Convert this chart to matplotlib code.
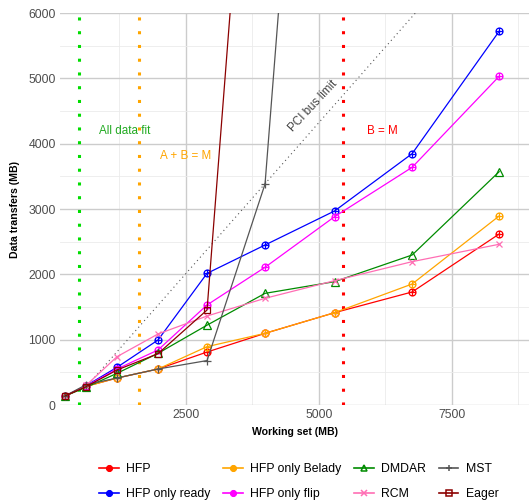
import numpy as np
import matplotlib
matplotlib.use("Agg")
import matplotlib.pyplot as plt
from matplotlib.path import Path
from matplotlib.lines import Line2D

plt.rcParams['font.family'] = ['Liberation Sans', 'DejaVu Sans']

# working set sizes (MB)
working_set = [231, 626, 1209, 1979, 2900, 3990, 5297, 6754, 8389]

# data transfers (MB) per strategy
hfp = [138, 285, 413, 551, 811, 1097, 1413, 1730, 2617]
hfp_belady = [138, 285, 413, 551, 893, 1097, 1413, 1852, 2893]
dmdar = [138, 270, 485, 791, 1222, 1709, 1888, 2296, 3571]
mst = [138, 310, 413, 551, 680, 3383, 17000]
hfp_ready = [138, 295, 577, 995, 2015, 2449, 2970, 3847, 5720]
hfp_flip = [138, 290, 551, 842, 1531, 2108, 2883, 3638, 5031]
rcm = [138, 300, 740, 1087, 1362, 1633, 1903, 2194, 2460]
eager = [138, 280, 536, 785, 1454, 12900]

# PCI bus limit line
pci_x = [560, 6815]
pci_y = [215, 6000]

# vertical thresholds
all_fit_x = 500
ab_m_x = 1616
b_m_x = 5451

# circle with a plus inside (ggplot shape 10)
circ = Path.unit_circle()
cross = Path([(-1, 0), (1, 0), (0, -1), (0, 1)],
             [Path.MOVETO, Path.LINETO, Path.MOVETO, Path.LINETO])
oplus = Path.make_compound_path(circ, cross)

series = [
    ("HFP", hfp, "#ff0000", oplus, 5.0),
    ("HFP only ready", hfp_ready, "#0000ff", oplus, 5.0),
    ("HFP only Belady", hfp_belady, "#ffa500", oplus, 5.0),
    ("HFP only flip", hfp_flip, "#ff00ff", oplus, 5.0),
    ("DMDAR", dmdar, "#008b00", "^", 5.5),
    ("RCM", rcm, "#ff6eb4", "x", 5.0),
    ("MST", mst, "#555555", "+", 6.0),
    ("Eager", eager, "#8b0000", "s", 4.8),
]

fig = plt.figure(figsize=(5.29, 5.04), dpi=100)
ax = fig.add_axes([60 / 529, 99 / 504, 469 / 529, 392 / 504])

ax.set_xlim(137, 8950)
ax.set_ylim(0, 6000)
ax.set_xticks([2500, 5000, 7500])
ax.set_xticks([1250, 3750, 6250, 8750], minor=True)
ax.set_yticks(range(0, 6001, 1000))
ax.set_yticks(range(500, 6000, 1000), minor=True)
ax.grid(which='major', color='#cccccc', lw=1.0)
ax.grid(which='minor', color='#ebebeb', lw=0.6)
ax.set_axisbelow(True)
for s in ax.spines.values():
    s.set_visible(False)
ax.tick_params(which='both', length=0, labelsize=8.8, labelcolor='#4d4d4d', pad=3)

# thresholds
dot = (0, (1, 3.5))
ax.axvline(all_fit_x, color='#00dd00', lw=2.2, ls=dot, zorder=1)
ax.axvline(ab_m_x, color='#ffa500', lw=2.2, ls=dot, zorder=1)
ax.axvline(b_m_x, color='#ff0000', lw=2.2, ls=dot, zorder=1)
ax.plot(pci_x, pci_y, color='#555555', lw=0.8, ls=(0, (1, 3)), zorder=1)

ax.text(1360, 4194, "All data fit", color='#22aa22', fontsize=8.4, ha='center', va='center')
ax.text(2500, 3810, "A + B = M", color='#ffa500', fontsize=8.4, ha='center', va='center')
ax.text(6190, 4194, "B = M", color='#ff0000', fontsize=8.4, ha='center', va='center')
ax.text(4895, 4577, "PCI bus limit", color='#444444', fontsize=8.4, ha='center', va='center',
        rotation=47, rotation_mode='anchor')

handles = {}
for name, vals, col, mk, ms in series:
    xs = working_set[:len(vals)]
    ax.plot(xs, vals, color=col, lw=0.9, marker=mk, ms=ms, mfc='none',
            mec=col, mew=0.9, zorder=3)
    handles[name] = Line2D([], [], color=col, lw=1.2, marker=mk, ms=ms * 0.8,
                           mfc=col if mk is oplus else 'none', mec=col, mew=1.1)

ax.set_xlabel("Working set (MB)", fontsize=7.6, fontweight='bold', labelpad=4)
ax.set_ylabel("Data transfers (MB)", fontsize=7.6, fontweight='bold', labelpad=6)

order = ["HFP", "HFP only ready", "HFP only Belady", "HFP only flip",
         "DMDAR", "RCM", "MST", "Eager"]
fig.legend([handles[n] for n in order], order, loc='center', ncol=4,
           bbox_to_anchor=(0.565, 0.044), frameon=False, fontsize=8.8,
           handlelength=1.6, handletextpad=0.6, columnspacing=1.05,
           labelspacing=1.05)

fig.savefig("out.png", dpi=100)
